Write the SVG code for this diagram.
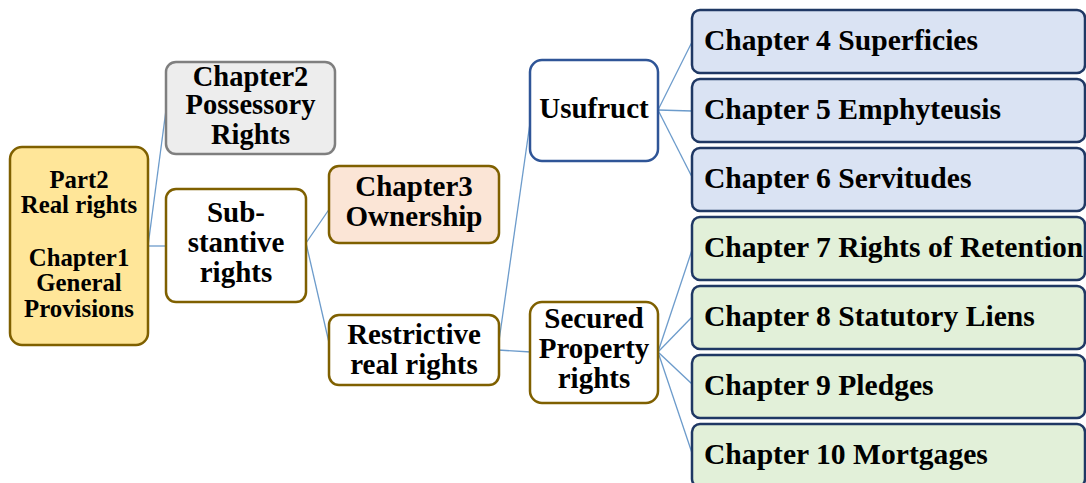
<svg xmlns="http://www.w3.org/2000/svg" width="1086" height="483" viewBox="0 0 1086 483">
<style>
text{font-family:"Liberation Serif","Times New Roman",serif;font-weight:bold;fill:#000}
.c{text-anchor:middle}
.m{font-size:29px}
.p{font-size:28.5px}
.r{font-size:24.8px}
.ch{font-size:29.6px}
.olive{stroke:#7F6000;stroke-width:2.5}
.blue{fill:#DAE3F3;stroke:#1F3864;stroke-width:2.5}
.green{fill:#E2F0D9;stroke:#1F3864;stroke-width:2.5}
.link{fill:none;stroke:#6C9BCB;stroke-width:1.3}
</style>
<rect width="1086" height="483" fill="#fff"/>
<g id="connectors">
<line class="link" x1="148" y1="246" x2="166" y2="110"/>
<line class="link" x1="148" y1="246" x2="166" y2="246"/>
<line class="link" x1="306" y1="243" x2="330" y2="208"/>
<line class="link" x1="306" y1="243" x2="330" y2="347"/>
<line class="link" x1="498" y1="348" x2="531" y2="116"/>
<line class="link" x1="498" y1="350" x2="531" y2="352"/>
<line class="link" x1="658" y1="110" x2="692" y2="42"/>
<line class="link" x1="658" y1="110" x2="692" y2="111"/>
<line class="link" x1="658" y1="110" x2="692" y2="177"/>
<line class="link" x1="658" y1="352" x2="692" y2="250"/>
<line class="link" x1="658" y1="352" x2="692" y2="317"/>
<line class="link" x1="658" y1="352" x2="692" y2="384"/>
<line class="link" x1="658" y1="352" x2="692" y2="453"/>
</g>
<g id="root">
<rect x="10" y="147" width="138" height="198" rx="12" fill="#FFE699" class="olive"/>
<text class="c r" x="79" y="188">Part2</text>
<text class="c r" x="79" y="213">Real rights</text>
<text class="c r" x="79" y="266">Chapter1</text>
<text class="c r" x="79" y="291">General</text>
<text class="c r" x="79" y="317">Provisions</text>
</g>
<g id="chapter2">
<rect x="166" y="62" width="169" height="92" rx="10" fill="#EDEDED" stroke="#7F7F7F" stroke-width="2.5"/>
<text class="c p" x="250.5" y="86">Chapter2</text>
<text class="c p" x="250.5" y="114">Possessory</text>
<text class="c p" x="250.5" y="144">Rights</text>
</g>
<g id="substantive">
<rect x="166" y="189" width="140" height="113" rx="10" fill="#fff" class="olive"/>
<text class="c m" x="236" y="222">Sub-</text>
<text class="c m" x="236" y="252">stantive</text>
<text class="c m" x="236" y="282">rights</text>
</g>
<g id="chapter3">
<rect x="329" y="166" width="170" height="77" rx="10" fill="#FBE5D6" class="olive"/>
<text class="c m" x="414" y="196">Chapter3</text>
<text class="c m" x="414" y="226">Ownership</text>
</g>
<g id="restrictive">
<rect x="329" y="315" width="170" height="70" rx="10" fill="#fff" class="olive"/>
<text class="c m" x="414" y="344">Restrictive</text>
<text class="c m" x="414" y="374">real rights</text>
</g>
<g id="usufruct">
<rect x="530" y="60" width="128" height="101" rx="12" fill="#fff" stroke="#2F5597" stroke-width="2.5"/>
<text class="c m" x="594" y="118">Usufruct</text>
</g>
<g id="secured">
<rect x="530" y="302" width="128" height="101" rx="12" fill="#fff" class="olive"/>
<text class="c m" x="594" y="328">Secured</text>
<text class="c m" x="594" y="358">Property</text>
<text class="c m" x="594" y="388">rights</text>
</g>
<g id="ch4"><rect x="692" y="10" width="393" height="63" rx="8" class="blue"/><text class="ch" x="704" y="50">Chapter 4 Superficies</text></g>
<g id="ch5"><rect x="692" y="79" width="393" height="63" rx="8" class="blue"/><text class="ch" x="704" y="119">Chapter 5 Emphyteusis</text></g>
<g id="ch6"><rect x="692" y="148" width="393" height="63" rx="8" class="blue"/><text class="ch" x="704" y="188">Chapter 6 Servitudes</text></g>
<g id="ch7"><rect x="692" y="217" width="393" height="63" rx="8" class="green"/><text class="ch" x="704" y="257">Chapter 7 Rights of Retention</text></g>
<g id="ch8"><rect x="692" y="286" width="393" height="63" rx="8" class="green"/><text class="ch" x="704" y="326">Chapter 8 Statutory Liens</text></g>
<g id="ch9"><rect x="692" y="355" width="393" height="63" rx="8" class="green"/><text class="ch" x="704" y="395">Chapter 9 Pledges</text></g>
<g id="ch10"><rect x="692" y="424" width="393" height="63" rx="8" class="green"/><text class="ch" x="704" y="464">Chapter 10 Mortgages</text></g>
</svg>
